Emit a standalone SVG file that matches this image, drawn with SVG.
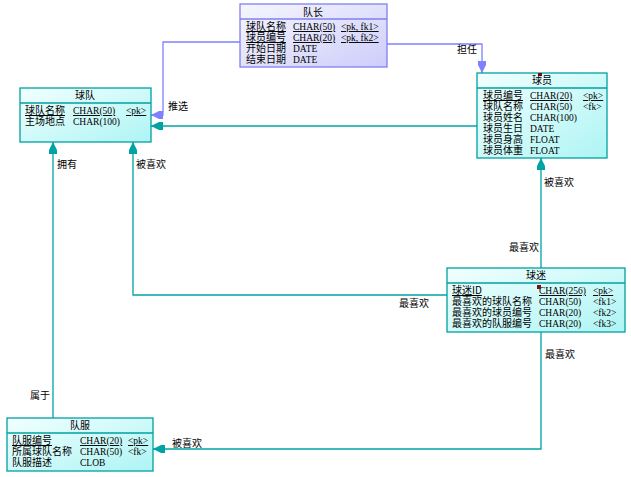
<svg xmlns="http://www.w3.org/2000/svg" width="631" height="477" viewBox="0 0 631 477">
<defs>
<linearGradient id="gc" x1="0" y1="0" x2="1" y2="1">
<stop offset="0" stop-color="#f2ffff"/>
<stop offset="1" stop-color="#aef4f4"/>
</linearGradient>
<linearGradient id="gp" x1="0" y1="0" x2="1" y2="1">
<stop offset="0" stop-color="#f6f6ff"/>
<stop offset="1" stop-color="#cdcdfa"/>
</linearGradient>
<marker id="at" markerUnits="userSpaceOnUse" markerWidth="20" markerHeight="20" refX="0" refY="0" orient="auto" overflow="visible">
<path d="M0,0 L-8,-4 L-12,-4 L-12,4 L-8,4 Z" fill="#00a3a3"/>
</marker>
<marker id="ap" markerUnits="userSpaceOnUse" markerWidth="20" markerHeight="20" refX="0" refY="0" orient="auto" overflow="visible">
<path d="M0,0 L-8,-4 L-12,-4 L-12,4 L-8,4 Z" fill="#8080ff"/>
</marker>
</defs>
<style>
.bc{fill:url(#gc);stroke:#00a0a0;stroke-width:1.3}
.bp{fill:url(#gp);stroke:#8080f0;stroke-width:1.3}
.sc{stroke:#00a0a0;stroke-width:1.3}
.sp{stroke:#8080f0;stroke-width:1.3}
text{font-family:"Noto Sans CJK SC","Liberation Serif",serif;font-size:10px;fill:#000}
.t{text-anchor:middle}
.ty{font-family:"Liberation Serif","Noto Sans CJK SC",serif;font-size:9.5px}
.u{text-decoration:underline}
.lc{fill:none;stroke:#00a3a3;stroke-width:1.3}
.lp{fill:none;stroke:#8080ff;stroke-width:1.3}
.lb{font-size:10px}
</style>
<g id="connectors">
<polyline class="lp" points="240,42 163,42 163,115 151,115" marker-end="url(#ap)"/>
<polyline class="lp" points="387,44 482,44 482,73" marker-end="url(#ap)"/>
<polyline class="lc" points="477,126 151,126" marker-end="url(#at)"/>
<polyline class="lc" points="447,295 133,295 133,142" marker-end="url(#at)"/>
<polyline class="lc" points="541,268 541,158" marker-end="url(#at)"/>
<polyline class="lc" points="53,418 53,142" marker-end="url(#at)"/>
<polyline class="lc" points="541,332 541,449 153,449" marker-end="url(#at)"/>
<text class="lb" x="168" y="110">推选</text>
<text class="lb" x="457" y="53">担任</text>
<text class="lb" x="57" y="168">拥有</text>
<text class="lb" x="136" y="168">被喜欢</text>
<text class="lb" x="399" y="307">最喜欢</text>
<text class="lb" x="544" y="186">被喜欢</text>
<text class="lb" x="509" y="251">最喜欢</text>
<text class="lb" x="545" y="358">最喜欢</text>
<text class="lb" x="172" y="447">被喜欢</text>
<text class="lb" x="30" y="399">属于</text>
</g>
<g id="duizhang">
<rect class="bp" x="240" y="4" width="147" height="63"/>
<line class="sp" x1="240" y1="19" x2="387" y2="19"/>
<text class="t" x="313" y="16">队长</text>
<text class="u" x="246" y="30">球队名称</text><text class="ty u" x="293" y="30">CHAR(50)</text><text class="ty u" x="341" y="30">&lt;pk, fk1&gt;</text>
<text class="u" x="246" y="41">球员编号</text><text class="ty u" x="293" y="41">CHAR(20)</text><text class="ty u" x="341" y="41">&lt;pk, fk2&gt;</text>
<text x="246" y="52">开始日期</text><text class="ty" x="293" y="52">DATE</text>
<text x="246" y="63">结束日期</text><text class="ty" x="293" y="63">DATE</text>
</g>
<g id="qiudui">
<rect class="bc" x="20" y="88" width="131" height="54"/>
<line class="sc" x1="20" y1="103" x2="151" y2="103"/>
<text class="t" x="85" y="99">球队</text>
<text class="u" x="25" y="114">球队名称</text><text class="ty u" x="73" y="114">CHAR(50)</text><text class="ty u" x="126" y="114">&lt;pk&gt;</text>
<text x="25" y="125">主场地点</text><text class="ty" x="73" y="125">CHAR(100)</text>
</g>
<g id="qiuyuan">
<rect class="bc" x="477" y="73" width="130" height="85"/>
<line class="sc" x1="477" y1="88" x2="607" y2="88"/>
<rect x="538" y="73" width="4" height="3" fill="#7a1010"/>
<text class="t" x="542" y="84">球员</text>
<text class="u" x="483" y="99">球员编号</text><text class="ty u" x="530" y="99">CHAR(20)</text><text class="ty u" x="583" y="99">&lt;pk&gt;</text>
<text x="483" y="110">球队名称</text><text class="ty" x="530" y="110">CHAR(50)</text><text class="ty" x="583" y="110">&lt;fk&gt;</text>
<text x="483" y="121">球员姓名</text><text class="ty" x="530" y="121">CHAR(100)</text>
<text x="483" y="132">球员生日</text><text class="ty" x="530" y="132">DATE</text>
<text x="483" y="143">球员身高</text><text class="ty" x="530" y="143">FLOAT</text>
<text x="483" y="154">球员体重</text><text class="ty" x="530" y="154">FLOAT</text>
</g>
<g id="qiumi">
<rect class="bc" x="447" y="268" width="178" height="64"/>
<line class="sc" x1="447" y1="283" x2="625" y2="283"/>
<text class="t" x="536" y="279">球迷</text>
<text class="u" x="452" y="294">球迷ID</text><text class="ty u" x="539" y="294">CHAR(256)</text><text class="ty u" x="593" y="294">&lt;pk&gt;</text>
<rect x="537" y="285" width="4" height="4" fill="#7a1010"/>
<text x="452" y="305">最喜欢的球队名称</text><text class="ty" x="539" y="305">CHAR(50)</text><text class="ty" x="593" y="305">&lt;fk1&gt;</text>
<text x="452" y="316">最喜欢的球员编号</text><text class="ty" x="539" y="316">CHAR(20)</text><text class="ty" x="593" y="316">&lt;fk2&gt;</text>
<text x="452" y="327">最喜欢的队服编号</text><text class="ty" x="539" y="327">CHAR(20)</text><text class="ty" x="593" y="327">&lt;fk3&gt;</text>
</g>
<g id="duifu">
<rect class="bc" x="7" y="418" width="146" height="53"/>
<line class="sc" x1="7" y1="433" x2="153" y2="433"/>
<text class="t" x="80" y="429">队服</text>
<text class="u" x="12" y="444">队服编号</text><text class="ty u" x="80" y="444">CHAR(20)</text><text class="ty u" x="128" y="444">&lt;pk&gt;</text>
<text x="12" y="455">所属球队名称</text><text class="ty" x="80" y="455">CHAR(50)</text><text class="ty" x="128" y="455">&lt;fk&gt;</text>
<text x="12" y="466">队服描述</text><text class="ty" x="80" y="466">CLOB</text>
</g>
</svg>
